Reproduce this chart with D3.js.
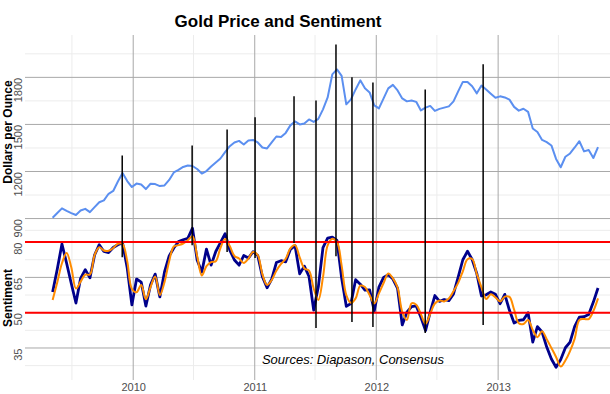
<!DOCTYPE html>
<html>
<head>
<meta charset="utf-8">
<script src="https://cdn.jsdelivr.net/npm/d3@7"></script>
<style>
  body { margin: 0; background: #fff; }
  svg { display: block; font-family: "Liberation Sans", Arial, sans-serif; }
</style>
</head>
<body>
<svg id="chart" width="610" height="394"></svg>
<script>
// series sampled every two weeks starting 2009-05-04
const startDate = "2009-05-04";
const stepDays = 14;

const goldPrice = [905, 935, 965, 949, 935, 923, 951, 962, 941, 973, 1004, 1016, 1058, 1076, 1136, 1190,
  1139, 1101, 1123, 1117, 1088, 1122, 1120, 1107, 1111, 1146, 1194, 1210, 1229, 1238, 1235, 1216,
  1187, 1203, 1232, 1257, 1283, 1324, 1361, 1385, 1395, 1372, 1398, 1401, 1385, 1353, 1347, 1385,
  1423, 1420, 1446, 1494, 1519, 1500, 1506, 1532, 1516, 1535, 1596, 1672, 1819, 1851, 1810, 1628,
  1660, 1723, 1781, 1730, 1704, 1621, 1602, 1666, 1730, 1752, 1717, 1666, 1647, 1653, 1644, 1589,
  1607, 1618, 1586, 1599, 1607, 1615, 1647, 1711, 1771, 1771, 1743, 1698, 1748, 1723, 1696, 1670,
  1679, 1672, 1658, 1612, 1588, 1600, 1580, 1474, 1452, 1401, 1387, 1366, 1280, 1227, 1294, 1315,
  1353, 1393, 1328, 1337, 1286, 1356];

const sentiment = [58.8, 68.6, 79.2, 71.0, 62.4, 54.1, 64.6, 68.3, 64.8, 74.5, 78.9, 76.0, 75.5, 77.7, 78.9, 79.6,
  69.0, 53.3, 64.3, 63.0, 52.8, 61.8, 66.4, 56.7, 67.3, 74.1, 77.5, 80.2, 81.0, 81.6, 85.9, 72.4,
  67.3, 77.0, 70.2, 76.0, 79.8, 83.6, 76.6, 72.4, 70.2, 74.3, 73.2, 75.9, 74.3, 65.3, 60.6, 64.3,
  71.3, 72.1, 71.6, 76.9, 78.5, 66.5, 69.8, 65.4, 51.1, 61.0, 77.7, 81.7, 82.1, 80.7, 64.7, 52.7,
  53.9, 64.0, 62.1, 59.6, 59.7, 50.7, 60.9, 65.0, 66.1, 64.3, 60.3, 44.8, 50.2, 52.6, 52.9, 48.1,
  42.4, 50.2, 57.3, 54.8, 55.6, 55.1, 58.0, 65.1, 72.5, 76.1, 72.6, 66.6, 57.1, 57.6, 58.8, 57.8,
  53.8, 57.8, 51.0, 45.6, 46.7, 47.0, 50.0, 37.5, 44.1, 41.8, 35.4, 30.3, 26.8, 30.1, 35.1, 37.5,
  44.2, 48.1, 48.3, 49.2, 54.5, 60.5];

const sentimentAvg = [55.4, 62.9, 71.0, 75.4, 69.3, 60.3, 63.2, 66.2, 66.2, 74.5, 77.8, 76.4, 76.3, 77.5, 79.3, 79.2,
  71.9, 60.1, 58.7, 61.8, 55.7, 60.9, 65.4, 57.5, 63.0, 71.9, 78.1, 78.7, 79.4, 80.8, 82.5, 74.1,
  65.8, 69.8, 71.5, 71.9, 77.5, 81.3, 78.3, 74.1, 73.0, 71.1, 73.0, 75.8, 74.4, 66.4, 61.8, 63.9,
  67.8, 70.7, 72.9, 77.3, 78.7, 73.5, 68.8, 67.9, 60.3, 55.4, 65.1, 78.6, 81.4, 80.1, 70.0, 57.5,
  54.2, 56.1, 61.5, 60.9, 57.5, 53.9, 58.2, 62.6, 66.7, 64.6, 60.7, 50.4, 46.9, 54.0, 53.4, 49.4,
  45.3, 49.5, 53.9, 55.2, 54.8, 56.0, 59.1, 62.7, 67.6, 72.7, 72.8, 66.4, 60.8, 55.8, 57.8, 56.5,
  54.8, 56.8, 56.7, 51.3, 45.5, 45.2, 46.9, 42.7, 39.6, 42.1, 38.7, 35.0, 31.2, 27.1, 29.7, 33.7,
  39.0, 46.9, 47.3, 47.3, 50.7, 56.1];

// vertical signal marks: from a gold price down to a sentiment level
const signalDates = ["2009-11-29", "2010-06-27", "2010-10-10", "2011-01-02", "2011-04-29", "2011-07-04",
  "2011-09-02", "2011-10-20", "2011-12-22", "2012-05-27", "2012-11-17"];
const signalTop = [1302, 1366, 1468, 1545, 1679, 1653, 2010, 1800, 1768, 1723, 1883];
const signalBottom = [73.6, 78.7, 75.8, 73.2, 79.6, 43.5, 74.0, 46.0, 43.9, 41.4, 44.8];

const sentimentTicks = [35, 50, 65, 80];
const priceTicks = [900, 1200, 1500, 1800];
const bandLevels = [50, 80];
const yearTicks = ["2010", "2011", "2012", "2013"];

const svg = d3.select("#chart");
const margin = {top: 35, right: 0, bottom: 14, left: 25};
const W = 610, H = 394;

// price shares the sentiment axis: price/15 + 30
const priceToY = p => p / 15 + 30;

const parse = d3.timeParse("%Y-%m-%d");
const t0 = parse(startDate);
const dates = goldPrice.map((_, i) => d3.timeDay.offset(t0, i * stepDays));

const x = d3.scaleTime()
  .domain([parse("2009-02-10"), parse("2013-12-03")])
  .range([margin.left, W - margin.right]);

const y = d3.scaleLinear()
  .domain([21.4, 168])
  .range([H - margin.bottom, margin.top]);

// grid
const majorY = [20].concat(sentimentTicks, priceTicks.map(priceToY), [priceToY(2100)]).sort((a, b) => a - b);
const minorY = majorY.slice(1).map((v, i) => (v + majorY[i]) / 2);
const majorX = yearTicks.map(d => parse(d + "-01-01"));
const minorX = ["2009", "2010", "2011", "2012", "2013"].map(d => parse(d + "-07-01"));

svg.append("clipPath").attr("id", "clip").append("rect")
  .attr("x", margin.left).attr("y", margin.top)
  .attr("width", W - margin.left - margin.right).attr("height", H - margin.top - margin.bottom);

const grid = svg.append("g").attr("clip-path", "url(#clip)");
grid.selectAll(".minh").data(minorY).join("line")
  .attr("x1", margin.left).attr("x2", W - margin.right)
  .attr("y1", d => y(d)).attr("y2", d => y(d))
  .attr("stroke", "#ececec").attr("stroke-width", 1);
grid.selectAll(".minv").data(minorX).join("line")
  .attr("x1", d => x(d)).attr("x2", d => x(d))
  .attr("y1", margin.top).attr("y2", H - margin.bottom)
  .attr("stroke", "#ececec").attr("stroke-width", 1);
grid.selectAll(".majh").data(majorY).join("line")
  .attr("x1", margin.left).attr("x2", W - margin.right)
  .attr("y1", d => y(d)).attr("y2", d => y(d))
  .attr("stroke", "#a8a8a8").attr("stroke-width", 1);
grid.selectAll(".majv").data(majorX).join("line")
  .attr("x1", d => x(d)).attr("x2", d => x(d))
  .attr("y1", margin.top).attr("y2", H - margin.bottom)
  .attr("stroke", "#a8a8a8").attr("stroke-width", 1);

// lines
const goldLine = d3.line().x((d, i) => x(dates[i])).y(d => y(priceToY(d)));
const sentLine = d3.line().x((d, i) => x(dates[i])).y(d => y(d));
const avgLine = d3.line().x((d, i) => x(dates[i])).y(d => y(d)).curve(d3.curveCatmullRom.alpha(0.5));

svg.append("path").datum(goldPrice).attr("d", goldLine)
  .attr("fill", "none").attr("stroke", "#5b8ff0").attr("stroke-width", 2).attr("stroke-linejoin", "round");
svg.append("path").datum(sentiment).attr("d", sentLine)
  .attr("fill", "none").attr("stroke", "#00008b").attr("stroke-width", 2.8).attr("stroke-linejoin", "round");
svg.append("path").datum(sentimentAvg).attr("d", avgLine)
  .attr("fill", "none").attr("stroke", "#ff8c00").attr("stroke-width", 2).attr("stroke-linejoin", "round");

// 50 / 80 bands
svg.selectAll(".band").data(bandLevels).join("line")
  .attr("x1", margin.left).attr("x2", W - margin.right)
  .attr("y1", d => y(d)).attr("y2", d => y(d))
  .attr("stroke", "#ff0000").attr("stroke-width", 2);

// signals
svg.selectAll(".signal").data(signalDates).join("line")
  .attr("x1", d => x(parse(d))).attr("x2", d => x(parse(d)))
  .attr("y1", (d, i) => y(priceToY(signalTop[i])))
  .attr("y2", (d, i) => y(signalBottom[i]))
  .attr("stroke", "#000").attr("stroke-width", 1.5);

// y axis labels (rotated)
const yAxis = d3.axisLeft(y)
  .tickValues(sentimentTicks.concat(priceTicks.map(priceToY)))
  .tickFormat((d, i) => i < sentimentTicks.length ? sentimentTicks[i] : priceTicks[i - sentimentTicks.length])
  .tickSize(0);
const yg = svg.append("g").attr("transform", `translate(${margin.left},0)`).call(yAxis);
yg.select(".domain").remove();
yg.selectAll("text")
  .attr("transform", "rotate(-90)")
  .attr("x", 0).attr("y", -3).attr("dy", 0)
  .attr("text-anchor", "end")
  .attr("fill", "#4d4d4d")
  .style("font-size", "11px").style("font-family", "Liberation Sans, Arial, sans-serif");

// x axis labels
const xAxis = d3.axisBottom(x).tickValues(majorX).tickFormat(d3.timeFormat("%Y")).tickSize(0);
const xg = svg.append("g").attr("transform", `translate(0,${H - margin.bottom})`).call(xAxis);
xg.select(".domain").remove();
xg.selectAll("text").attr("y", 11).attr("dy", 0).attr("fill", "#4d4d4d")
  .style("font-size", "11px").style("font-family", "Liberation Sans, Arial, sans-serif");

// titles
svg.append("text").attr("x", 278).attr("y", 27).attr("text-anchor", "middle")
  .style("font-size", "17px").style("font-weight", "bold").text("Gold Price and Sentiment");

svg.append("text").attr("transform", "translate(12,132) rotate(-90)").attr("text-anchor", "middle")
  .style("font-size", "12px").style("font-weight", "bold").text("Dollars per Ounce");
svg.append("text").attr("transform", "translate(12,298) rotate(-90)").attr("text-anchor", "middle")
  .style("font-size", "12px").style("font-weight", "bold").text("Sentiment");

svg.append("text").attr("x", 353).attr("y", 364).attr("text-anchor", "middle")
  .style("font-size", "13px").style("font-style", "italic").text("Sources: Diapason, Consensus");
</script>
</body>
</html>
